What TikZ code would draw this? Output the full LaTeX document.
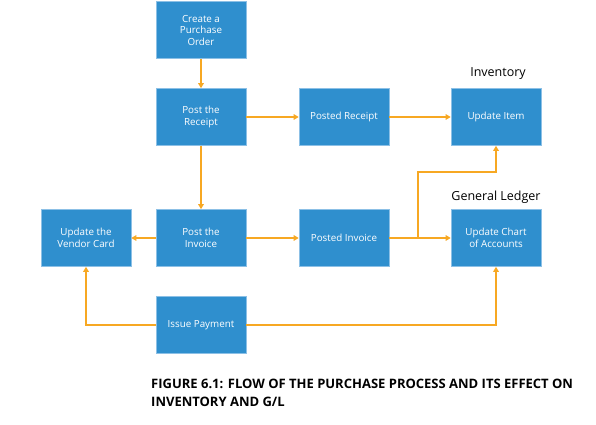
\documentclass[tikz,border=0pt]{standalone}
\usepackage{fontspec}
\setmainfont{Open Sans}
\usepackage{tikz}
\usetikzlibrary{positioning}
\usetikzlibrary{arrows.meta}
\usepackage{xcolor}
\definecolor{boxblue}{HTML}{2F8FCE}
\definecolor{boxedge}{HTML}{8CC0E6}
\definecolor{flow}{HTML}{F7A823}

\begin{document}
\begin{tikzpicture}[x=1pt, y=-1pt,
        n/.style={rectangle, draw=boxedge, line width=0.6pt, fill=boxblue, text=white,
            minimum width=90pt, minimum height=57pt, align=center,
            font=\fontsize{9.8}{11.5}\selectfont},
        hd/.style={font=\fontsize{12.5}{14}\selectfont},
        flw/.style={draw=flow, line width=1.4pt, -{Triangle[length=5pt, width=5.5pt]}}]
            \useasboundingbox (0, 0) rectangle (596, 424);
            \node[n] (po) at (201, 30) {Create a\\Purchase\\Order};
            \node[n] (rec) at (201, 117) {Post the\\Receipt};
            \node[n] (prec) at (344, 117) {Posted Receipt};
            \node[n] (item) at (496, 117) {Update Item};
            \node[n] (vend) at (86, 238) {Update the\\Vendor Card};
            \node[n] (inv) at (201, 238) {Post the\\Invoice};
            \node[n] (pinv) at (344, 238) {Posted Invoice};
            \node[n] (chart) at (496, 238) {Update Chart\\of Accounts};
            \node[n] (pay) at (201, 325) {Issue Payment};

            \node[hd] (invlbl) at (498, 74) {Inventory};
            \node[hd] (gllbl) at (496, 197) {General Ledger};
            \node[anchor=north west, align=left, inner sep=0pt,
                font=\fontsize{13}{18}\selectfont\bfseries] (cap) at (151, 379)
                {FIGURE 6.1: FLOW OF THE PURCHASE PROCESS AND ITS EFFECT ON\\INVENTORY AND G/L};

            \coordinate (br) at (418, 238);
            \coordinate (brtop) at (418, 172);

            \draw[flw] (po) -- (rec);
            \draw[flw] (rec) -- (prec);
            \draw[flw] (prec) -- (item);
            \draw[flw] (rec) -- (inv);
            \draw[flw] (inv) -- (vend);
            \draw[flw] (inv) -- (pinv);
            \draw[flw] (pinv) -- (chart);
            \draw[flw] (br) -- (brtop) -| (item.south);
            \draw[flw] (pay.west) -| (vend.south);
            \draw[flw] (pay.east) -| (chart.south);
        \end{tikzpicture}
\end{document}
